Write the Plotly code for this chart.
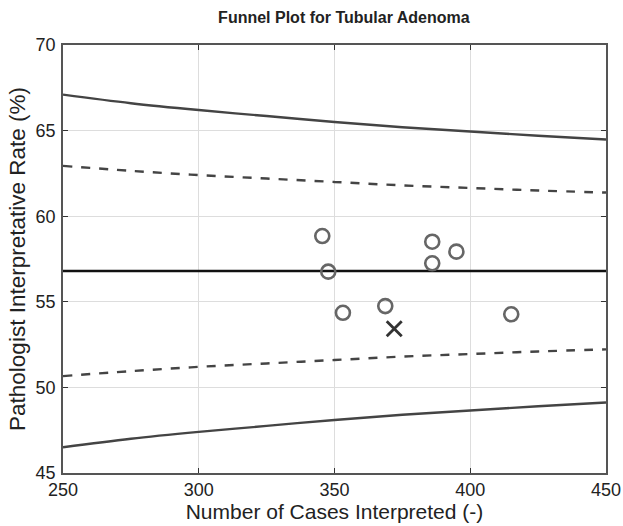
import plotly.graph_objects as go

# Data
curve_x = [250, 275, 300, 325, 350, 375, 400, 425, 450]
upper_998 = [67.1, 66.6, 66.2, 65.85, 65.5, 65.2, 64.95, 64.7, 64.48]
upper_95 = [62.94, 62.65, 62.4, 62.2, 62.0, 61.8, 61.65, 61.5, 61.38]
lower_95 = [50.66, 50.95, 51.2, 51.4, 51.6, 51.8, 51.95, 52.1, 52.22]
lower_998 = [46.5, 47.0, 47.4, 47.75, 48.1, 48.4, 48.65, 48.9, 49.12]
mean_rate = 56.8

path_x = [345.5, 347.7, 353.1, 368.7, 386.0, 386.0, 394.9, 415.1]
path_y = [58.84, 56.76, 54.36, 54.75, 58.51, 57.25, 57.93, 54.27]

target_x = [372.0]
target_y = [53.43]

x_ticks = [250, 300, 350, 400, 450]
y_ticks = [45, 50, 55, 60, 65, 70]

curve_col = "#444444"
fig = go.Figure()
for ys, dash in [(upper_998, "solid"), (upper_95, "dash"), (lower_95, "dash"), (lower_998, "solid")]:
    fig.add_trace(go.Scatter(x=curve_x, y=ys, mode="lines",
                             line=dict(color=curve_col, width=2.4, dash=dash, shape="spline"),
                             showlegend=False, hoverinfo="skip"))
fig.add_trace(go.Scatter(x=[250, 450], y=[mean_rate, mean_rate], mode="lines",
                         line=dict(color="#111111", width=2.6), showlegend=False))
fig.add_trace(go.Scatter(x=path_x, y=path_y, mode="markers",
                         marker=dict(symbol="circle-open", size=14, color="#666666",
                                     line=dict(width=2.6, color="#666666")),
                         showlegend=False))
fig.add_trace(go.Scatter(x=target_x, y=target_y, mode="markers",
                         marker=dict(symbol="x-thin-open", size=15, color="#333333",
                                     line=dict(width=2.8, color="#333333")),
                         showlegend=False))

font_family = "Liberation Sans, Arial, sans-serif"
axis_common = dict(showline=True, linecolor="#555555", linewidth=1.5, mirror="ticks",
                   ticks="inside", ticklen=5, tickcolor="#333333", tickwidth=1,
                   showgrid=True, gridcolor="#dddddd", gridwidth=1, zeroline=False,
                   automargin=False,
                   tickfont=dict(size=18, color="#222222", family=font_family))

fig.update_layout(
    width=623, height=526,
    margin=dict(l=63, r=17, t=45, b=53),
    paper_bgcolor="white", plot_bgcolor="white",
    font=dict(family=font_family, color="#222222"),
    title=dict(text="<b>Funnel Plot for Tubular Adenoma</b>", x=0.552, xanchor="center",
               y=0.967, yanchor="middle", font=dict(size=16, color="#222222", family=font_family)),
    xaxis=dict(range=[250, 450], tickvals=x_ticks, ticklabelstandoff=0,
               title=dict(text="Number of Cases Interpreted (-)", font=dict(size=21), standoff=0),
               **axis_common),
    yaxis=dict(range=[45, 70], tickvals=y_ticks, ticklabelstandoff=2,
               title=dict(text="Pathologist Interpretative Rate (%)", font=dict(size=22.5), standoff=4),
               **axis_common),
)

fig.write_html("out.html", config={"displayModeBar": False},
               post_script="document.body.style.margin='0';document.body.style.padding='0';document.body.style.overflow='hidden';")
